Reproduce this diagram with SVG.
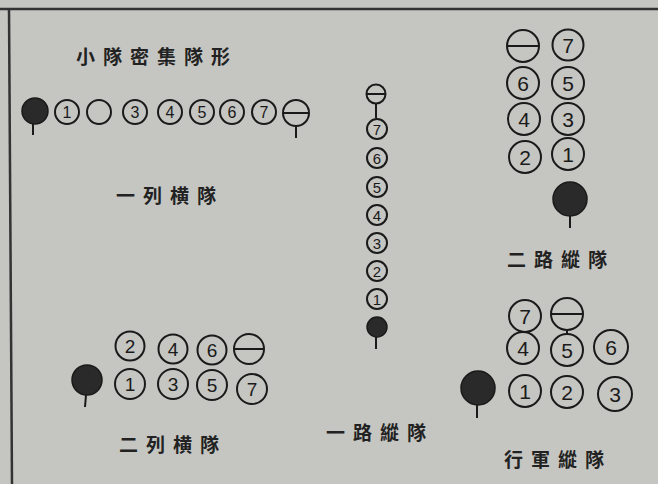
<svg xmlns="http://www.w3.org/2000/svg" width="658" height="484" viewBox="0 0 658 484">
<style>
.bg{fill:#c5c5c1}
.c{fill:none;stroke:#1a1a1a;stroke-width:2}
.f{fill:#2a2a2a;stroke:#1a1a1a;stroke-width:1.5}
.s{stroke:#1a1a1a;stroke-width:2}
.n{font-family:"Liberation Sans",sans-serif;fill:#1a1a1a;text-anchor:middle;dominant-baseline:central}
.t{font-family:"Noto Sans CJK TC","Noto Sans CJK SC",sans-serif;font-weight:bold;font-size:19px;letter-spacing:8px;fill:#222}
</style>
<rect class="bg" width="658" height="484"/>
<g id="border">
<line x1="0" y1="9" x2="658" y2="9" stroke="#333" stroke-width="2.5"/>
<line x1="9" y1="9" x2="12" y2="484" stroke="#333" stroke-width="2.5"/>
</g>
<g id="title"><text class="t" x="76" y="64">小隊密集隊形</text></g>

<g id="row1">
<circle class="f" cx="35" cy="111" r="13"/><line class="s" x1="33" y1="124" x2="33" y2="135"/>
<circle class="c" cx="67" cy="112" r="12"/><text class="n" x="67" y="112" font-size="16">1</text>
<circle class="c" cx="99" cy="112" r="12"/>
<circle class="c" cx="135" cy="112" r="12"/><text class="n" x="135" y="112" font-size="16">3</text>
<circle class="c" cx="170" cy="112" r="12"/><text class="n" x="170" y="112" font-size="16">4</text>
<circle class="c" cx="202" cy="112" r="12"/><text class="n" x="202" y="112" font-size="16">5</text>
<circle class="c" cx="232" cy="112" r="12"/><text class="n" x="232" y="112" font-size="16">6</text>
<circle class="c" cx="264" cy="112" r="12"/><text class="n" x="264" y="112" font-size="16">7</text>
<circle class="c" cx="296" cy="113" r="13"/><line class="s" x1="283" y1="113" x2="309" y2="113"/><line class="s" x1="296" y1="126" x2="296" y2="138"/>
</g>
<g id="label1"><text class="t" x="116" y="203">一列横隊</text></g>

<g id="col1">
<circle class="c" cx="376" cy="94" r="9.5"/><line class="s" x1="366.5" y1="94" x2="385.5" y2="94"/><line class="s" x1="376" y1="103.5" x2="376" y2="118"/>
<circle class="c" cx="377" cy="129" r="10"/><text class="n" x="377" y="129" font-size="15">7</text>
<circle class="c" cx="377" cy="158" r="10"/><text class="n" x="377" y="158" font-size="15">6</text>
<circle class="c" cx="377" cy="187" r="10"/><text class="n" x="377" y="187" font-size="15">5</text>
<circle class="c" cx="377" cy="215" r="10"/><text class="n" x="377" y="215" font-size="15">4</text>
<circle class="c" cx="377" cy="243" r="10"/><text class="n" x="377" y="243" font-size="15">3</text>
<circle class="c" cx="377" cy="271" r="10"/><text class="n" x="377" y="271" font-size="15">2</text>
<circle class="c" cx="377" cy="299" r="10"/><text class="n" x="377" y="299" font-size="15">1</text>
<circle class="f" cx="377" cy="327" r="10"/><line class="s" x1="376" y1="337" x2="376" y2="349"/>
</g>
<g id="label2"><text class="t" x="326" y="440">一路縱隊</text></g>

<g id="col2">
<circle class="c" cx="523" cy="46" r="16"/><line class="s" x1="507" y1="46" x2="539" y2="46"/>
<circle class="c" cx="568" cy="45" r="15.5"/><text class="n" x="568" y="45" font-size="21">7</text>
<circle class="c" cx="523" cy="83" r="16"/><text class="n" x="523" y="83" font-size="21">6</text>
<circle class="c" cx="568" cy="83" r="16"/><text class="n" x="568" y="83" font-size="21">5</text>
<circle class="c" cx="524" cy="119" r="16"/><text class="n" x="524" y="119" font-size="21">4</text>
<circle class="c" cx="568" cy="119" r="16"/><text class="n" x="568" y="119" font-size="21">3</text>
<circle class="c" cx="525" cy="157" r="16"/><text class="n" x="525" y="157" font-size="21">2</text>
<circle class="c" cx="568" cy="154" r="16"/><text class="n" x="568" y="154" font-size="21">1</text>
<circle class="f" cx="570" cy="199" r="17"/><line class="s" x1="570" y1="216" x2="570" y2="228"/>
</g>
<g id="label3"><text class="t" x="507" y="267">二路縱隊</text></g>

<g id="row2">
<circle class="c" cx="130" cy="346" r="14.5"/><text class="n" x="130" y="346" font-size="19">2</text>
<circle class="c" cx="173" cy="349" r="14.5"/><text class="n" x="173" y="349" font-size="19">4</text>
<circle class="c" cx="212" cy="350" r="14.5"/><text class="n" x="212" y="350" font-size="19">6</text>
<circle class="c" cx="249" cy="349" r="15"/><line class="s" x1="234" y1="349" x2="264" y2="349"/>
<circle class="c" cx="130" cy="384" r="15"/><text class="n" x="130" y="384" font-size="19">1</text>
<circle class="c" cx="173" cy="384" r="15"/><text class="n" x="173" y="384" font-size="19">3</text>
<circle class="c" cx="212" cy="385" r="15"/><text class="n" x="212" y="385" font-size="19">5</text>
<circle class="c" cx="252" cy="389" r="15"/><text class="n" x="252" y="389" font-size="19">7</text>
<circle class="f" cx="87" cy="380" r="15"/><line class="s" x1="86" y1="395" x2="85" y2="407"/>
</g>
<g id="label4"><text class="t" x="119" y="452">二列横隊</text></g>

<g id="march">
<circle class="c" cx="525" cy="316" r="16"/><text class="n" x="525" y="316" font-size="21">7</text>
<circle class="c" cx="567" cy="314" r="16"/><line class="s" x1="551" y1="314" x2="583" y2="314"/><line class="s" x1="567" y1="330" x2="567" y2="334"/>
<circle class="c" cx="523" cy="348" r="16"/><text class="n" x="523" y="348" font-size="21">4</text>
<circle class="c" cx="567" cy="350" r="16"/><text class="n" x="567" y="350" font-size="21">5</text>
<circle class="c" cx="611" cy="347" r="17"/><text class="n" x="611" y="347" font-size="21">6</text>
<circle class="c" cx="525" cy="391" r="16"/><text class="n" x="525" y="391" font-size="21">1</text>
<circle class="c" cx="567" cy="392" r="16"/><text class="n" x="567" y="392" font-size="21">2</text>
<circle class="c" cx="615" cy="394" r="17"/><text class="n" x="615" y="394" font-size="21">3</text>
<circle class="f" cx="478" cy="388" r="17"/><line class="s" x1="477" y1="405" x2="477" y2="418"/>
</g>
<g id="label5"><text class="t" x="504" y="467">行軍縱隊</text></g>
</svg>
